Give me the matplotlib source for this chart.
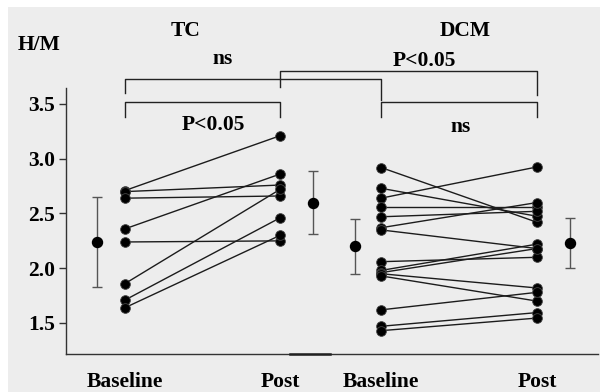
import matplotlib
matplotlib.use("Agg")
import matplotlib.pyplot as plt
from matplotlib.lines import Line2D
from matplotlib.patches import Rectangle

# ---- data ----
tc_base = [2.71, 2.70, 2.64, 2.36, 2.24, 1.86, 1.71, 1.64]
tc_post = [3.21, 2.76, 2.66, 2.86, 2.25, 2.72, 2.46, 2.30]
tc_mean = [2.24, 2.60]
tc_sd = [0.41, 0.285]

dcm_base = [2.92, 2.73, 2.64, 2.56, 2.47, 2.37, 2.35, 2.06, 1.98, 1.96, 1.95, 1.93, 1.62, 1.47, 1.43]
dcm_post = [2.42, 2.475, 2.925, 2.56, 2.52, 2.60, 2.18, 2.10, 2.22, 2.18, 1.82, 1.70, 1.78, 1.595, 1.545]
dcm_mean = [2.20, 2.23]
dcm_sd = [0.25, 0.23]

yticks = [1.5, 2.0, 2.5, 3.0, 3.5]
ytick_labels = ["1.5", "2.0", "2.5", "3.0", "3.5"]
xlabels = ["Baseline", "Post", "Baseline", "Post"]

# ---- layout ----
W, H = 600, 392
x_tc = [1.0, 2.0]
x_dcm = [2.652, 3.658]
x_tc_mean = [0.819, 2.213]
x_dcm_mean = [2.484, 3.871]

fig = plt.figure(figsize=(6.0, 3.92), dpi=100)
fig.patch.set_facecolor("white")
fig.add_artist(Rectangle((8 / W, 0), 1, 1 - 7 / H, transform=fig.transFigure,
                         facecolor="#ededed", edgecolor="none", zorder=-10))

def px(x, y):
    return x / W, 1 - y / H

left, right, bottom, top = 66, 598, 354, 88
ax = fig.add_axes([left / W, 1 - bottom / H, (right - left) / W, (bottom - top) / H])
ax.patch.set_alpha(0)
ax.set_xlim(0.619, 4.052)
ylo = 3.5 - (bottom - 104) / 109.5
yhi = 3.5 - (top - 104) / 109.5
ax.set_ylim(ylo, yhi)

serif = ["Liberation Serif", "DejaVu Serif"]
fs = 15.5

lc = "#1c1c1c"
for b, p in zip(tc_base, tc_post):
    ax.plot(x_tc, [b, p], color=lc, lw=1.0, zorder=2)
for b, p in zip(dcm_base, dcm_post):
    ax.plot(x_dcm, [b, p], color=lc, lw=1.0, zorder=2)

ms = 7.0
ax.plot([x_tc[0]] * len(tc_base), tc_base, "o", color="black", ms=ms, mec="#444444", mew=0.6, zorder=3)
ax.plot([x_tc[1]] * len(tc_post), tc_post, "o", color="black", ms=ms, mec="#444444", mew=0.6, zorder=3)
ax.plot([x_dcm[0]] * len(dcm_base), dcm_base, "o", color="black", ms=ms, mec="#444444", mew=0.6, zorder=3)
ax.plot([x_dcm[1]] * len(dcm_post), dcm_post, "o", color="black", ms=ms, mec="#444444", mew=0.6, zorder=3)

ax.errorbar(x_tc_mean, tc_mean, yerr=tc_sd, fmt="o", color="black", ms=7.2,
            ecolor="#555555", elinewidth=1.0, capsize=3.5, capthick=1.0, zorder=3)
ax.errorbar(x_dcm_mean, dcm_mean, yerr=dcm_sd, fmt="o", color="black", ms=7.2,
            ecolor="#555555", elinewidth=1.0, capsize=3.5, capthick=1.0, zorder=3)

for s in ["top", "right"]:
    ax.spines[s].set_visible(False)
ax.spines["left"].set_color("#333333")
ax.spines["bottom"].set_color("#333333")
ax.spines["left"].set_linewidth(1.0)
ax.spines["bottom"].set_linewidth(1.0)
ax.set_yticks(yticks)
ax.set_yticklabels(ytick_labels, fontfamily=serif, fontweight="bold", fontsize=fs)
ax.tick_params(axis="y", direction="out", length=5, width=1, color="#333333", pad=3)
ax.set_xticks([x_tc[0], x_tc[1], x_dcm[0], x_dcm[1]])
ax.set_xticklabels(xlabels, fontfamily=serif, fontweight="bold", fontsize=fs)
ax.tick_params(axis="x", length=0, pad=13)

# slightly thicker spot on the bottom axis
fig.add_artist(Line2D([px(290, 0)[0], px(330, 0)[0]], [px(0, 354)[1]] * 2,
                      transform=fig.transFigure, color="#222222", lw=1.8))

def line(xs, ys):
    fx = [x / W for x in xs]
    fy = [1 - y / H for y in ys]
    fig.add_artist(Line2D(fx, fy, transform=fig.transFigure, color="#222222", lw=1.0))

# brackets
line([125, 125, 381, 381], [93, 79, 79, 100])      # TC baseline vs DCM baseline (ns)
line([280, 280, 537, 537], [87, 71, 71, 95])       # TC post vs DCM post (P<0.05)
line([125, 125, 280, 280], [117, 102, 102, 117])   # TC baseline vs post
line([381, 381, 537, 537], [117, 102, 102, 117])   # DCM baseline vs post

def txt(x, y, s):
    fig.text(*px(x, y), s, ha="center", va="center", fontfamily=serif,
             fontweight="bold", fontsize=fs)

txt(39, 45, "H/M")
txt(186, 31, "TC")
txt(465, 31, "DCM")
txt(223, 59, "ns")
txt(424, 61, "P<0.05")
txt(213, 125, "P<0.05")
txt(461, 127, "ns")

fig.savefig("out.png", dpi=100)
